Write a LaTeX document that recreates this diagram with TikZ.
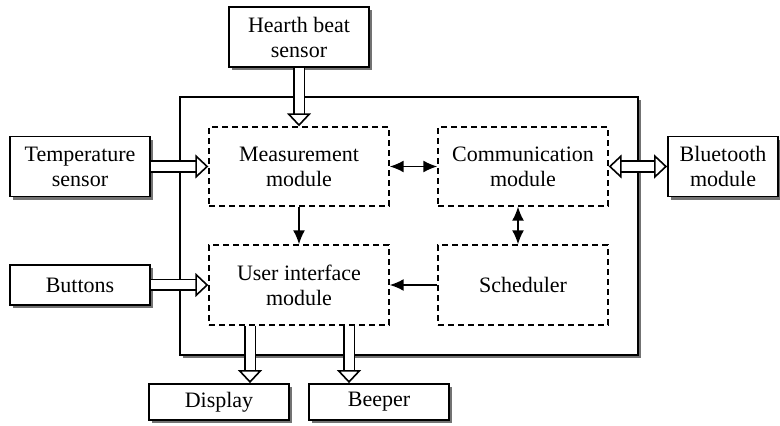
\documentclass[tikz,border=0pt]{standalone}
\usepackage{fontspec}
\setmainfont{Liberation Serif}
\usetikzlibrary{arrows.meta,shadows}
\begin{document}
\begin{tikzpicture}[x=0.5pt,y=-0.5pt,font=\fontsize{11}{12.5}\selectfont,
  box/.style={draw,line width=0.9pt,fill=white,align=center,
    drop shadow={shadow xshift=1.6pt,shadow yshift=-1.6pt,fill=black!55,opacity=1}},
  module/.style={draw,line width=0.7pt,dash pattern=on 3pt off 2pt,align=center},
  fat/.style={double,double distance=4.5pt,line width=0.8pt,
    >={Triangle[open,fill=white,length=6.5pt,width=12pt]},->},
  thin/.style={line width=0.8pt,>={Latex[length=7pt,width=6pt]},->}]
  \useasboundingbox (0,0) rectangle (780,426);
  \node[box,minimum width=229pt,minimum height=129pt] (sys) at (409,226) {};
  \node[box,minimum width=70pt,minimum height=30pt] (hb) at (299,37) {Hearth beat\\sensor};
  \node[box,minimum width=70pt,minimum height=30pt] (temp) at (80,166.5) {Temperature\\sensor};
  \node[box,minimum width=70pt,minimum height=20pt] (btn) at (80,285) {Buttons};
  \node[box,minimum width=55pt,minimum height=30pt] (bt) at (723,166.5) {Bluetooth\\module};
  \node[box,minimum width=70pt,minimum height=18pt] (disp) at (219,402) {Display};
  \node[box,minimum width=70pt,minimum height=18pt] (beep) at (379,402) {Beeper};
  \node[module,minimum width=90pt,minimum height=39.5pt] (meas) at (299,166.5) {Measurement\\module};
  \node[module,minimum width=85pt,minimum height=39.5pt] (comm) at (523,166.5) {Communication\\module};
  \node[module,minimum width=90pt,minimum height=40pt] (ui) at (299,285) {User interface\\module};
  \node[module,minimum width=85pt,minimum height=40pt] (sched) at (523,285) {Scheduler};
  % external links
  \draw[fat] (hb) -- (meas);
  \draw[fat] (temp) -- (meas);
  \draw[fat] (btn) -- (ui);
  \draw[fat,<->] (comm) -- (bt);
  \draw[fat] ([xshift=-24.5pt]ui.south) -- ([xshift=15.5pt]disp.north);
  \draw[fat] ([xshift=25pt]ui.south) -- ([xshift=-15pt]beep.north);
  % internal links
  \draw[thin,<->] (meas) -- (comm);
  \draw[thin] (meas) -- (ui);
  \draw[thin,<->] ([xshift=-2.5pt]comm.south) -- ([xshift=-2.5pt]sched.north);
  \draw[thin] (sched) -- (ui);
\end{tikzpicture}
\end{document}
